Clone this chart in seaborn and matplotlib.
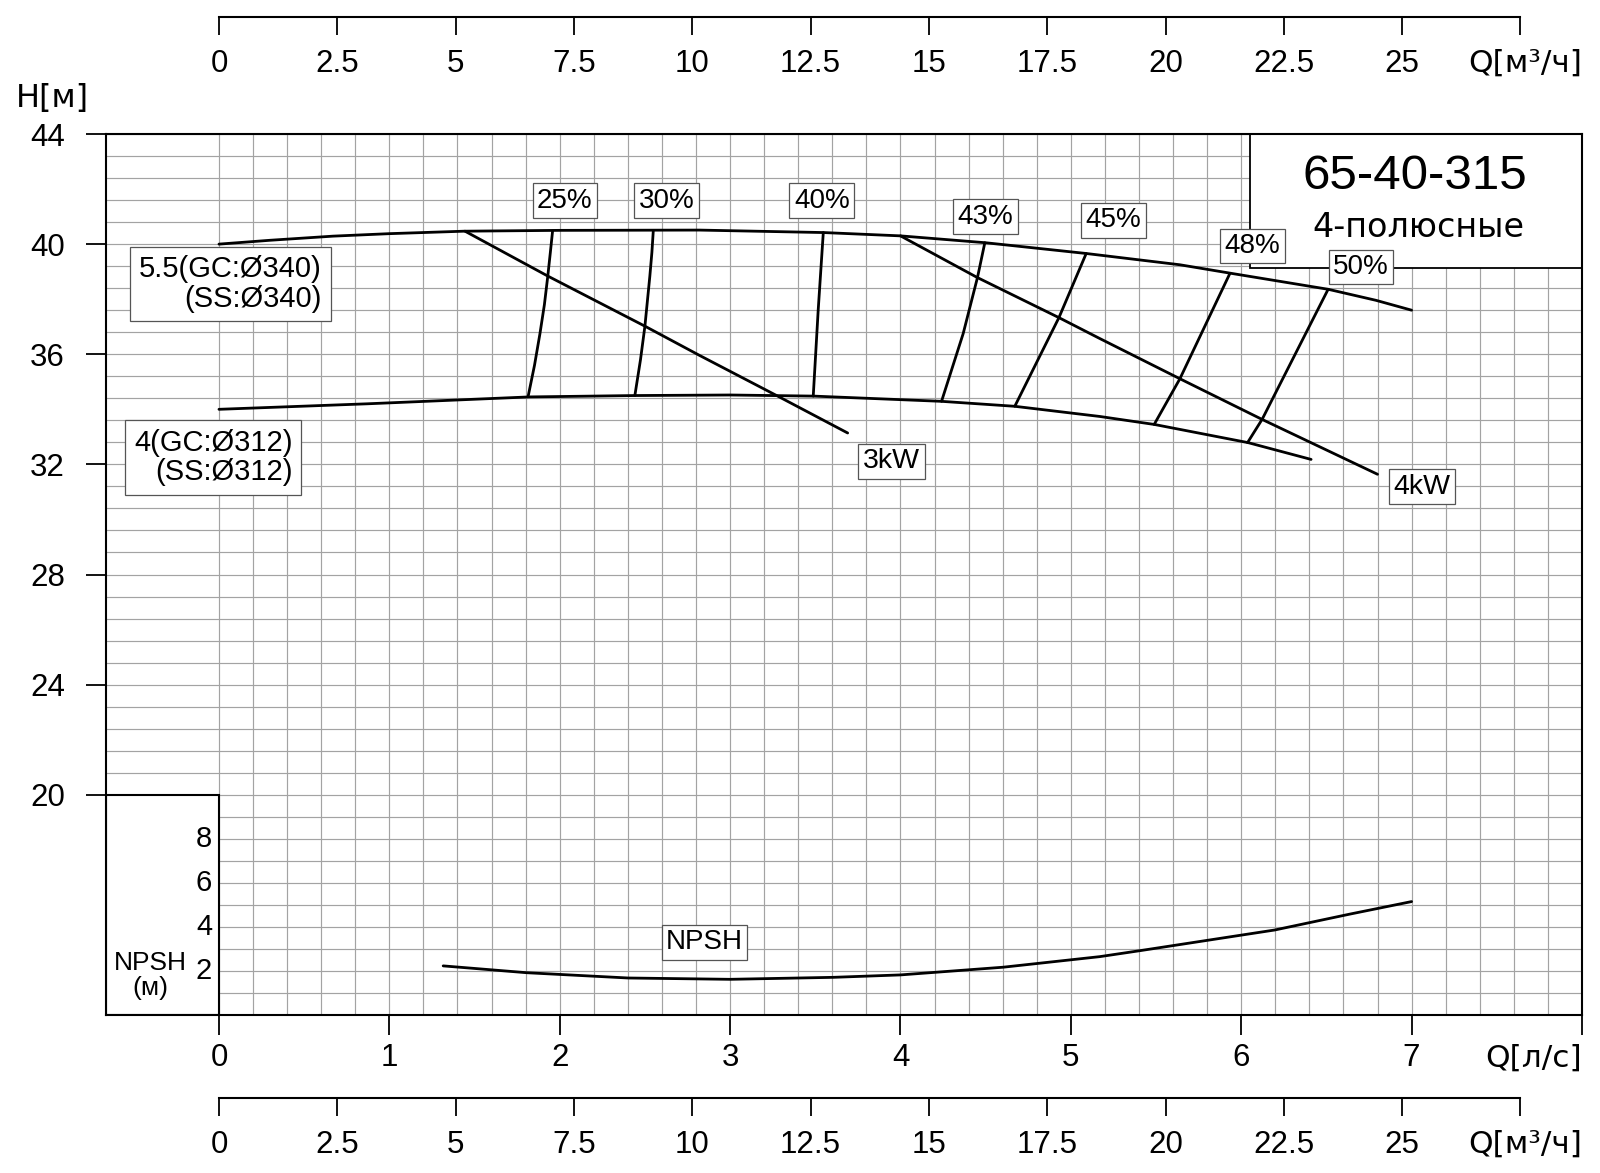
import matplotlib
matplotlib.use('Agg')
import matplotlib.pyplot as plt
from matplotlib.patches import Rectangle
from matplotlib.ticker import FixedLocator
import numpy as np
import seaborn as sns

sns.set_style('ticks', rc={'axes.edgecolor': 'black', 'text.color': 'black',
                           'xtick.color': 'black', 'ytick.color': 'black'})
plt.rcParams['font.family'] = ['Liberation Sans', 'DejaVu Sans']

# Q in l/s, H in m
q_340 = [0, 0.3, 0.67, 1.0, 1.44, 2.0, 2.82, 3.55, 4.0, 4.5, 5.09, 5.64, 5.93, 6.51, 6.79, 7.0]
h_340 = [40.0, 40.14, 40.29, 40.38, 40.47, 40.5, 40.51, 40.42, 40.3, 40.05, 39.66, 39.25, 38.95, 38.36, 37.96, 37.6]

q_312 = [0, 0.87, 1.82, 2.44, 3.0, 3.49, 4.24, 4.67, 5.17, 5.49, 5.64, 6.04, 6.41]
h_312 = [34.0, 34.2, 34.45, 34.5, 34.52, 34.48, 34.29, 34.11, 33.74, 33.45, 33.27, 32.79, 32.18]

q_3kw = [1.444, 1.93, 2.5, 2.82, 3.27, 3.69]
h_3kw = [40.47, 38.84, 37.02, 35.96, 34.51, 33.14]

q_4kw = [4.0, 4.45, 4.93, 5.17, 5.64, 6.12, 6.80]
h_4kw = [40.3, 38.79, 37.33, 36.57, 35.11, 33.64, 31.64]

q_eff25 = [1.958, 1.945, 1.93, 1.91, 1.884, 1.852, 1.815]
h_eff25 = [40.47, 39.7, 38.84, 37.8, 36.75, 35.6, 34.48]
q_eff30 = [2.549, 2.541, 2.529, 2.5, 2.474, 2.441]
h_eff30 = [40.47, 39.7, 38.84, 37.02, 35.8, 34.5]
q_eff40 = [3.547, 3.517, 3.488]
h_eff40 = [40.42, 37.6, 34.48]
q_eff43 = [4.495, 4.452, 4.368, 4.241]
h_eff43 = [40.05, 38.79, 36.75, 34.29]
q_eff45 = [5.09, 4.93, 4.786, 4.671]
h_eff45 = [39.66, 37.33, 35.54, 34.11]
q_eff48 = [5.933, 5.64, 5.489]
h_eff48 = [38.93, 35.11, 33.45]
q_eff50 = [6.51, 6.123, 6.037]
h_eff50 = [38.36, 33.64, 32.79]

eff_names = ['25%', '30%', '40%', '43%', '45%', '48%', '50%']
eff_label_q = [2.03, 2.627, 3.538, 4.50, 5.25, 6.067, 6.703]
eff_label_h = [41.58, 41.58, 41.58, 40.99, 40.87, 39.93, 39.17]

q_npsh = [1.316, 1.806, 2.402, 3.0, 3.605, 4.0, 4.603, 5.17, 5.405, 6.197, 6.637, 7.0]
npsh = [2.23, 1.92, 1.68, 1.62, 1.71, 1.82, 2.17, 2.65, 2.92, 3.86, 4.58, 5.15]

h_ticks = [20, 24, 28, 32, 36, 40, 44]
q_ticks = [0, 1, 2, 3, 4, 5, 6, 7, 8]
q_tick_labels = ['0', '1', '2', '3', '4', '5', '6', '7', '']
m3h_ticks = [0, 2.5, 5, 7.5, 10, 12.5, 15, 17.5, 20, 22.5, 25, 27.5]
m3h_labels = ['0', '2.5', '5', '7.5', '10', '12.5', '15', '17.5', '20', '22.5', '25', '']
npsh_ticks = [2, 4, 6, 8]

XMIN, XMAX = -0.663, 8.0
YMIN, YMAX = 12.0, 44.0
NPSH_STEP = 0.8          # one NPSH metre on the H scale
W, H = 1600, 1173
WIDE = ['DejaVu Sans']

fig = plt.figure(figsize=(16, 11.73), dpi=100)
L, R = 106 / W, 1582 / W
B, T = 1 - 1015 / H, 1 - 134 / H
ax = fig.add_axes([L, B, R - L, T - B])
ax.set_xlim(XMIN, XMAX)
ax.set_ylim(YMIN, YMAX)

ax.xaxis.set_major_locator(FixedLocator(q_ticks))
ax.xaxis.set_minor_locator(FixedLocator(np.arange(0, 8.01, 0.2)))
ax.set_xticklabels(q_tick_labels)
ax.yaxis.set_major_locator(FixedLocator(h_ticks))
ax.yaxis.set_minor_locator(FixedLocator(np.arange(12, 44.01, 0.8)))
ax.tick_params(which='major', direction='out', length=14.5, width=1.3, labelsize=22.5)
ax.tick_params(axis='x', which='major', pad=6)
ax.tick_params(axis='y', which='major', pad=15)
ax.tick_params(which='minor', length=0)
ax.set_axisbelow(True)
ax.grid(which='both', color='#a3a3a3', lw=0.85)
for s in ax.spines.values():
    s.set_linewidth(1.5)

# white boxes (NPSH scale, title)
ax.add_patch(Rectangle((XMIN, YMIN), 0 - XMIN, 20 - YMIN, fc='white', ec='black', lw=1.5, zorder=1.5))
ax.add_patch(Rectangle((6.05, 39.14), XMAX - 6.05, YMAX - 39.14, fc='white', ec='black', lw=1.3, zorder=1.5))

lw = 2.0
for q, h in [(q_340, h_340), (q_312, h_312), (q_3kw, h_3kw), (q_4kw, h_4kw),
             (q_eff25, h_eff25), (q_eff30, h_eff30), (q_eff40, h_eff40), (q_eff43, h_eff43),
             (q_eff45, h_eff45), (q_eff48, h_eff48), (q_eff50, h_eff50)]:
    sns.lineplot(x=q, y=h, sort=False, estimator=None, color='black', lw=lw, ax=ax, zorder=2)

npsh_h = [YMIN + NPSH_STEP * n for n in npsh]
sns.lineplot(x=q_npsh, y=npsh_h, sort=False, estimator=None, color='black', lw=lw, ax=ax, zorder=2)

box = dict(boxstyle='square,pad=0.16', fc='white', ec='#555555', lw=0.9)
for name, xq, yh in zip(eff_names, eff_label_q, eff_label_h):
    ax.text(xq, yh, name, ha='center', va='center', fontsize=20, bbox=box, zorder=4)
ax.text(3.947, 32.11, '3kW', ha='center', va='center', fontsize=20.5, bbox=box, zorder=4)
ax.text(7.06, 31.19, '4kW', ha='center', va='center', fontsize=20.5, bbox=box, zorder=4)
ax.text(2.85, 14.64, 'NPSH', ha='center', va='center', fontsize=20, bbox=box, zorder=4)

box2 = dict(boxstyle='square,pad=0.3', fc='white', ec='#555555', lw=0.9)
ax.text(0.0675, 38.55, '5.5(GC:Ø340)\n(SS:Ø340)', ha='center', va='center', multialignment='right',
        fontsize=21, linespacing=1.05, bbox=box2, zorder=4)
ax.text(-0.033, 32.25, '4(GC:Ø312)\n(SS:Ø312)', ha='center', va='center', multialignment='right',
        fontsize=21, linespacing=1.05, bbox=box2, zorder=4)

ax.text(7.02, 42.44, '65-40-315', ha='center', va='center', fontsize=35.5, zorder=4)
ax.text(7.04, 40.62, '4-полюсные', ha='center', va='center', fontsize=24, family=WIDE, zorder=4)

for n in npsh_ticks:
    ax.text(-0.04, YMIN + NPSH_STEP * n, str(n), ha='right', va='center', fontsize=21, zorder=4)
ax.text(-0.40, 13.44, 'NPSH\n(м)', ha='center', va='center', fontsize=19, linespacing=1.05, zorder=4)

fig.text(16 / W, 1 - 99 / H, 'H[м]', ha='left', va='center', fontsize=23, family=WIDE)
fig.text(R, 1 - 1058 / H, 'Q[л/с]', ha='right', va='center', fontsize=22.5, family=WIDE)

# m3/h scales above and below
for ypix in [17, 1098]:
    a2 = fig.add_axes([L, 1 - ypix / H, R - L, 1e-4])
    a2.set_xlim(XMIN * 3.6, XMAX * 3.6)
    a2.set_yticks([])
    a2.patch.set_visible(False)
    for s in ['left', 'right', 'top']:
        a2.spines[s].set_visible(False)
    a2.spines['bottom'].set_bounds(0, 27.5)
    a2.spines['bottom'].set_linewidth(1.5)
    a2.set_xticks(m3h_ticks, m3h_labels)
    a2.tick_params(axis='x', direction='out', length=13, width=1.3, labelsize=22.5, pad=10)
    fig.text(R, 1 - (ypix + 46) / H, 'Q[м³/ч]', ha='right', va='center', fontsize=22.5, family=WIDE)

fig.savefig('out.png', dpi=100, facecolor='white')
